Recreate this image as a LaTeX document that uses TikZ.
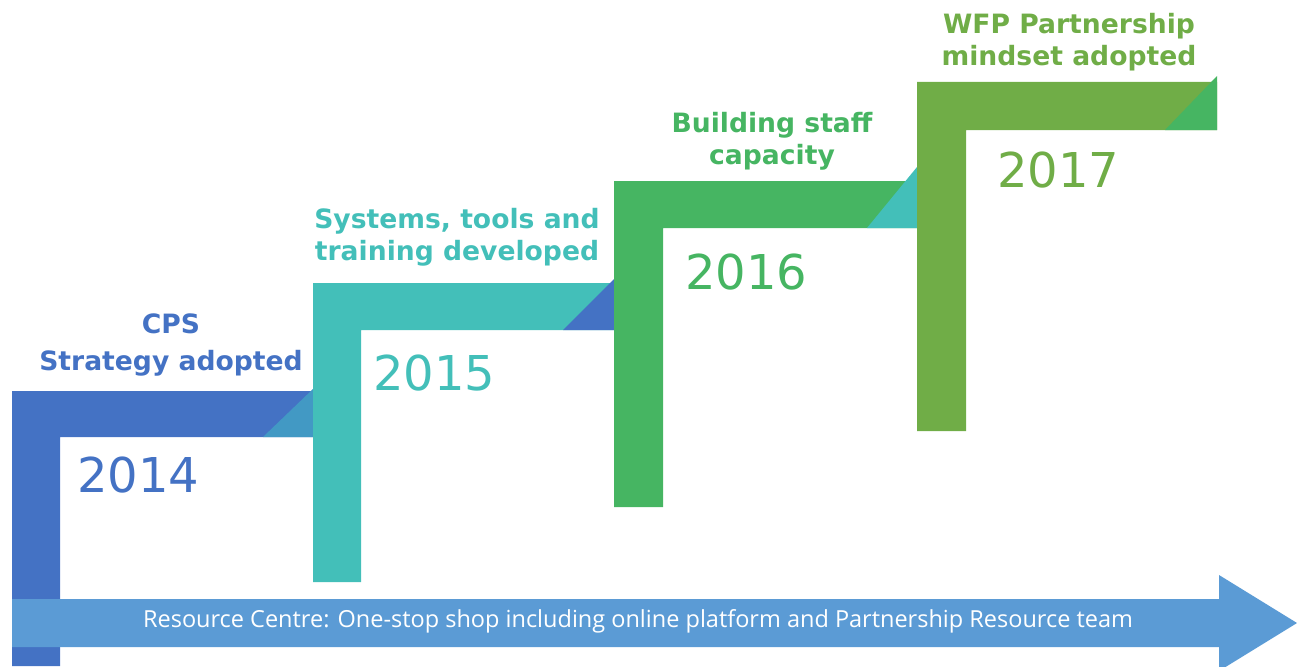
\documentclass[tikz,border=0pt]{standalone}
\usepackage{fontspec}
\setmainfont{DejaVu Sans}
\newfontfamily\arrowfont{Open Sans}
\definecolor{cblue}{HTML}{4472C4}
\definecolor{cteal}{HTML}{43BFB9}
\definecolor{cgreen}{HTML}{46B562}
\definecolor{colive}{HTML}{70AD47}
\definecolor{cmix}{HTML}{4299C4}
\definecolor{carrow}{HTML}{5B9BD5}
\tikzset{
  title/.style={font=\fontsize{26.6}{32}\selectfont\bfseries, align=center, inner sep=0pt},
  year/.style={font=\fontsize{48}{48}\selectfont, anchor=west, inner sep=0pt},
}
\begin{document}
\begin{tikzpicture}[x=1pt,y=-1pt]
\useasboundingbox (0,0) rectangle (1297,666);
% step 1
\fill[cblue] (12,666) -- (12,391) -- (313,391) -- (313,437) -- (60,437) -- (60,666) -- cycle;
\fill[cmix] (263,437) -- (313,389) -- (313,437) -- cycle;
% step 2
\fill[cteal] (313,582) -- (313,283) -- (614,283) -- (614,330) -- (361,330) -- (361,582) -- cycle;
\fill[cblue] (563,330) -- (614,279) -- (614,330) -- cycle;
% step 3
\fill[cgreen] (614,507) -- (614,181) -- (917,181) -- (917,228) -- (663,228) -- (663,507) -- cycle;
\fill[cteal] (867,228) -- (917,167) -- (917,228) -- cycle;
% step 4
\fill[colive] (917,431) -- (917,82) -- (1217,82) -- (1217,130) -- (966,130) -- (966,431) -- cycle;
\fill[cgreen] (1165,130) -- (1217,76) -- (1217,130) -- cycle;
% arrow
\fill[carrow] (12,599) -- (1219,599) -- (1219,575) -- (1297,623) -- (1219,671) -- (1219,647) -- (12,647) -- cycle;
\node[font=\arrowfont\fontsize{23.5}{24}\selectfont, text=white, inner sep=0pt] (res) at (638,621) {Resource Centre: One-stop shop including online platform and Partnership Resource team};
% titles
\node[title, text=cblue, font=\fontsize{26.6}{37}\selectfont\bfseries] (t1) at (171,345) {CPS\\Strategy adopted};
\node[title, text=cteal] (t2) at (457,237) {Systems, tools and\\training developed};
\node[title, text=cgreen] (t3) at (772,141) {Building staff\\capacity};
\node[title, text=colive] (t4) at (1069,42) {WFP Partnership\\mindset adopted};
% years
\node[year, text=cblue] (y1) at (77,475) {2014};
\node[year, text=cteal] (y2) at (373,373) {2015};
\node[year, text=cgreen] (y3) at (685,272) {2016};
\node[year, text=colive] (y4) at (997,170) {2017};
\end{tikzpicture}
\end{document}
